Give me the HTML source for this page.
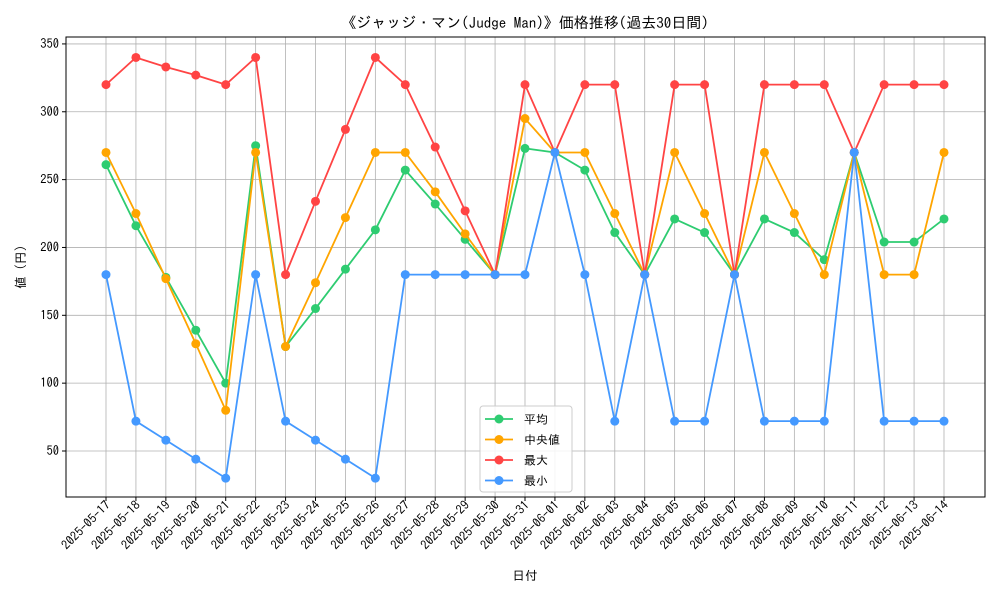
<!DOCTYPE html>
<html><head><meta charset="utf-8"><style>
body{margin:0;background:#fff;}
svg{font-family:"IPAGothic","Noto Sans CJK JP",monospace;}
</style></head><body>
<svg id="c" width="1000" height="600"></svg>
<script>
const dates=["2025-05-17","2025-05-18","2025-05-19","2025-05-20","2025-05-21","2025-05-22","2025-05-23","2025-05-24","2025-05-25","2025-05-26","2025-05-27","2025-05-28","2025-05-29","2025-05-30","2025-05-31","2025-06-01","2025-06-02","2025-06-03","2025-06-04","2025-06-05","2025-06-06","2025-06-07","2025-06-08","2025-06-09","2025-06-10","2025-06-11","2025-06-12","2025-06-13","2025-06-14"];
const meanVals=[261,216,178,139,100,275,127,155,184,213,257,232,206,180,273,270,257,211,180,221,211,180,221,211,191,270,204,204,221];
const medianVals=[270,225,177,129,80,270,127,174,222,270,270,241,210,180,295,270,270,225,180,270,225,180,270,225,180,270,180,180,270];
const maxVals=[320,340,333,327,320,340,180,234,287,340,320,274,227,180,320,270,320,320,180,320,320,180,320,320,320,270,320,320,320];
const minVals=[180,72,58,44,30,180,72,58,44,30,180,180,180,180,180,270,180,72,180,72,72,180,72,72,72,270,72,72,72];
const yTicks=[50,100,150,200,250,300,350];
const seriesNames=["平均","中央値","最大","最小"];
const NS="http://www.w3.org/2000/svg";
const svg=document.getElementById('c');
const L=66,R=985,T=37,B=497;
const yMin=16.1,yMax=355.1;
const x=i=>106+i*(944-106)/(dates.length-1);
const y=v=>B-(v-yMin)/(yMax-yMin)*(B-T);
function el(t,a,p){const e=document.createElementNS(NS,t);for(const k in a)e.setAttribute(k,a[k]);(p||svg).appendChild(e);return e;}
const grid=el('g',{});


dates.forEach((d,i)=>{el('line',{x1:x(i),x2:x(i),y1:T,y2:B,stroke:'#b0b0b0','stroke-width':0.8},grid);});
yTicks.forEach(v=>{el('line',{x1:L,x2:R,y1:y(v),y2:y(v),stroke:'#b0b0b0','stroke-width':0.8},grid);});
el('rect',{x:L,y:T,width:R-L,height:B-T,fill:'none',stroke:'#000','stroke-width':1});
yTicks.forEach(v=>{
 el('line',{x1:L-4,x2:L,y1:y(v),y2:y(v),stroke:'#000'});
 const t=el('text',{x:L-7,y:y(v)+4,'text-anchor':'end','font-size':12.5});
 t.textContent=v;
 
 
});
dates.forEach((d,i)=>{
 el('line',{x1:x(i),x2:x(i),y1:B,y2:B+4,stroke:'#000'});
 const tx=x(i)+5,ty=B+9;
 const t=el('text',{x:tx,y:ty,'text-anchor':'end','font-size':12.5,transform:`rotate(-45 ${tx} ${ty})`});
 t.textContent=d;
 
 
});
const series=[[meanVals,'#2ecc71'],[medianVals,'#ffa500'],[maxVals,'#ff4444'],[minVals,'#4499ff']];
series.forEach(([vals,col],k)=>{
 const g=el('g',{});
 
 
 el('polyline',{points:vals.map((v,i)=>x(i)+','+y(v)).join(' '),fill:'none',stroke:col,'stroke-width':1.8},g);
 vals.forEach((v,i)=>{const c=el('circle',{cx:x(i),cy:y(v),r:4.5,fill:col},g);
  
  });
});
const ti=el('text',{x:525,y:28,'text-anchor':'middle','font-size':15});
ti.textContent='《ジャッジ・マン(Judge Man)》価格推移(過去30日間)';


const xl=el('text',{x:525,y:580,'text-anchor':'middle','font-size':12.5});
xl.textContent='日付';


const yl=el('text',{x:25,y:267,'text-anchor':'middle','font-size':12.5,transform:'rotate(-90 25 267)'});
yl.textContent='値 (円)';


const lg=el('g',{});


el('rect',{x:480,y:406,width:92,height:86,rx:3,fill:'#fff','fill-opacity':0.85,stroke:'#ccc'},lg);
series.forEach(([v,col],k)=>{
 const yy=419+k*20.5;
 el('line',{x1:485,x2:513,y1:yy,y2:yy,stroke:col,'stroke-width':1.8},lg);
 el('circle',{cx:499,cy:yy,r:4.5,fill:col},lg);
 const t=el('text',{x:524,y:yy+4.5,'font-size':12},lg);
 t.textContent=seriesNames[k];
 
 
});
</script>
</body></html>
